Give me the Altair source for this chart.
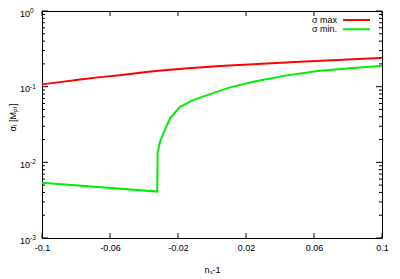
import altair as alt
import pandas as pd

# data
red_x = [-0.1, -0.0894, -0.0776, -0.0659, -0.0541, -0.0424, -0.0316, -0.0159,
         0.0047, 0.0518, 0.0988, 0.1]
red_y = [0.1072, 0.1148, 0.1247, 0.1337, 0.142, 0.1524, 0.1618, 0.174,
         0.188, 0.213, 0.240, 0.241]
green_x = [-0.1, -0.0322, -0.0320, -0.0305, -0.0286, -0.0247, -0.0188, -0.0110,
           -0.0012, 0.0106, 0.0243, 0.0439, 0.0635, 0.0831, 0.0988, 0.1]
green_y = [0.00536, 0.00411, 0.0133, 0.0190, 0.0242, 0.0382, 0.0543, 0.0665,
           0.0798, 0.0978, 0.116, 0.141, 0.162, 0.177, 0.188, 0.189]
series_names = ["σ max", "σ min."]
series_colors = ["#ff0000", "#00ee00"]

x_ticks = [-0.1, -0.06, -0.02, 0.02, 0.06, 0.1]
y_decades = [0.001, 0.01, 0.1, 1.0]
y_exps = ["-3", "-2", "-1", "0"]
y_minor = [k * d for d in [0.001, 0.01, 0.1] for k in range(2, 10)]

W, H = 340, 227
FONT = "Liberation Sans"

df = pd.concat([
    pd.DataFrame({"x": red_x, "y": red_y, "s": series_names[0]}),
    pd.DataFrame({"x": green_x, "y": green_y, "s": series_names[1]}),
])
df["order"] = range(len(df))

xscale = alt.Scale(domain=[-0.1, 0.1], nice=False, zero=False)
yscale = alt.Scale(type="log", domain=[0.001, 1], nice=False)

xaxis = alt.Axis(values=x_ticks, tickSize=0, domain=False, grid=False,
                 labelFlush=False, labelPadding=5, labelFontSize=9, labelFont=FONT,
                 labelColor="black",
                 labelExpr="datum.value < 0 ? '-' + format(-datum.value, '.2~f') : format(datum.value, '.2~f')",
                 title="nₛ-1", titleFont=FONT, titleFontSize=9, titleFontWeight="normal",
                 titleColor="black", titleY=31, titleBaseline="middle")
yaxis = alt.Axis(labels=False, ticks=False, domain=False, grid=False,
                 title="σᵢ [Mₚₗ]", titleFont=FONT, titleFontSize=9,
                 titleFontWeight="normal", titleColor="black",
                 titleX=-30, titleY=106, titleAngle=270, titleBaseline="middle")

X = lambda: alt.X("x:Q", scale=xscale, axis=xaxis)
Y = lambda: alt.Y("y:Q", scale=yscale, axis=yaxis)

lines = alt.Chart(df).mark_line(strokeWidth=2).encode(
    x=X(),
    y=Y(),
    color=alt.Color("s:N", scale=alt.Scale(domain=series_names, range=series_colors), legend=None),
    detail="s:N",
    order="order:Q",
)

xt = pd.DataFrame({"x": x_ticks})
xtick_b = alt.Chart(xt).mark_rule(color="black").encode(
    x=X(), y=alt.value(H), y2=alt.value(H - 5))
xtick_t = alt.Chart(xt).mark_rule(color="black").encode(
    x=X(), y=alt.value(0), y2=alt.value(5))

yd = pd.DataFrame({"y": y_decades, "e": y_exps, "b": ["10"] * 4})
ym = pd.DataFrame({"y": y_minor})
ytick_l = alt.Chart(yd).mark_rule(color="black").encode(
    y=Y(), x=alt.value(0), x2=alt.value(6))
ytick_r = alt.Chart(yd).mark_rule(color="black").encode(
    y=Y(), x=alt.value(W), x2=alt.value(W - 6))
ymin_l = alt.Chart(ym).mark_rule(color="black").encode(
    y=Y(), x=alt.value(0), x2=alt.value(3))
ymin_r = alt.Chart(ym).mark_rule(color="black").encode(
    y=Y(), x=alt.value(W), x2=alt.value(W - 3))

ylab_base = alt.Chart(yd).mark_text(align="right", baseline="middle", fontSize=9,
                                    font=FONT, color="black", dy=2.5).encode(
    y=Y(), x=alt.value(-12), text="b:N")
ylab_exp = alt.Chart(yd).mark_text(align="left", baseline="middle", fontSize=6.5,
                                   font=FONT, color="black", dy=0).encode(
    y=Y(), x=alt.value(-12), text="e:N")

legend_layers = []
for i, (name, col) in enumerate(zip(series_names, series_colors)):
    ld = pd.DataFrame({"s": [name]})
    ypix = 9 + 9.3 * i
    legend_layers.append(alt.Chart(ld).mark_text(
        align="right", baseline="middle", fontSize=9, font=FONT, color="black").encode(
        x=alt.value(295), y=alt.value(ypix), text="s:N"))
    legend_layers.append(alt.Chart(ld).mark_rule(strokeWidth=2, color=col).encode(
        x=alt.value(301), x2=alt.value(328), y=alt.value(ypix)))

chart = alt.layer(
    lines, xtick_b, xtick_t, ytick_l, ytick_r, ymin_l, ymin_r,
    ylab_base, ylab_exp, *legend_layers
).properties(
    width=W, height=H,
    autosize=alt.AutoSizeParams(type="none"),
    padding={"left": 34, "top": 3, "right": 10, "bottom": 41},
    background="white",
).configure_view(stroke="black", strokeWidth=1).configure_axis(grid=False)

chart.save("out.html", embed_options={"renderer": "svg", "actions": False})
